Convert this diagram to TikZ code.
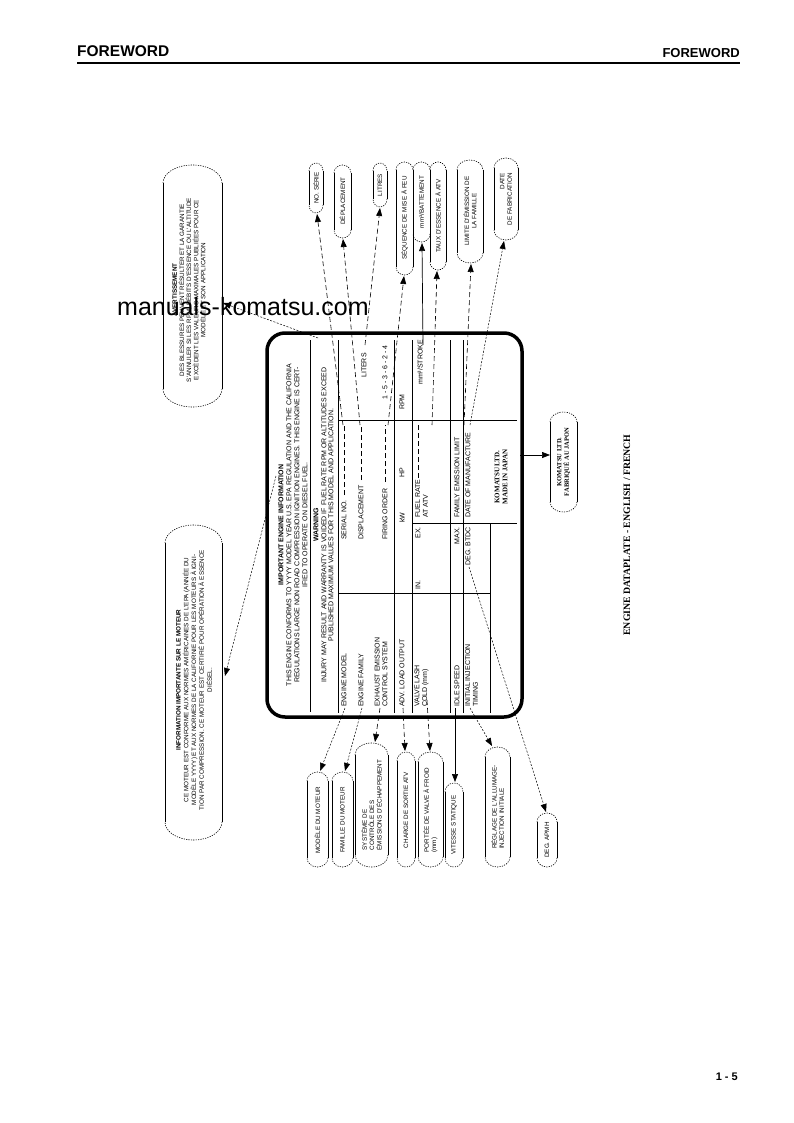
\documentclass[tikz,border=0pt]{standalone}
\usepackage{fontspec}
\setmainfont{Liberation Sans}
\newfontfamily\serifb{Liberation Serif}
\usetikzlibrary{arrows.meta}
\newcommand\bub[5]{%
  \pgfmathsetmacro\bubrx{(#2-#1)/2}%
  \draw[bubside] (#1,#3+#5) -- (#1,#4-#5) (#2,#3+#5) -- (#2,#4-#5);
  \draw[bubcap] (#1,#3+#5) arc[start angle=180,end angle=0,x radius=\bubrx pt,y radius=#5pt];
  \draw[bubcap] (#2,#4-#5) arc[start angle=0,end angle=-180,x radius=\bubrx pt,y radius=#5pt];
}
\begin{document}
\begin{tikzpicture}[x=1pt,y=-1pt,
  tt/.style={rotate=90,inner sep=0pt,font=\fontsize{7}{7.8}\selectfont,align=left},
  ttb/.style={tt,font=\fontsize{7}{7.8}\selectfont\bfseries},
  bt/.style={rotate=90,inner sep=0pt,font=\fontsize{6.3}{7.3}\selectfont,align=center},
  rule/.style={line width=0.6pt},
  tdash/.style={line width=0.6pt,dash pattern=on 5pt off 3pt},
  bubside/.style={line width=0.6pt},
  bubcap/.style={line width=0.6pt,dash pattern=on 1.2pt off 1.2pt},
  tip/.style={-{Triangle[length=8pt,width=6pt]}},
  lead/.style={tip,line width=0.6pt,dash pattern=on 5pt off 3pt},
  leadf/.style={tip,line width=0.5pt,dash pattern=on 2pt off 1.5pt},
  leads/.style={tip,line width=0.7pt},
]
\useasboundingbox (0,0) rectangle (793,1123);
\fill[white] (0,0) rectangle (793,1123);

% header / footer
\node[anchor=base west,inner sep=0pt,font=\fontsize{15.5}{16}\selectfont\bfseries] (hl) at (77,57) {FOREWORD};
\node[anchor=base east,inner sep=0pt,font=\fontsize{13}{14}\selectfont\bfseries] (hr) at (740,58) {FOREWORD};
\draw[line width=2.5pt] (77,63) -- (740,63);
\node[anchor=base east,inner sep=0pt,font=\fontsize{11}{12}\selectfont\bfseries] (pg) at (738,1080) {1 - 5};

% caption
\node[rotate=90,inner sep=0pt,font=\fontsize{9.8}{10}\serifb\bfseries] (cap) at (627,535) {ENGINE DATAPLATE - ENGLISH / FRENCH};

% dataplate frame
\draw[line width=3.5pt,rounded corners=18pt] (267,333) rectangle (522,717);
% table rules
\draw[rule] (310,340) -- (310,712);
\draw[rule] (338,340) -- (338,713);
\draw[rule] (394,340) -- (394,713);
\draw[rule] (412,340) -- (412,713);
\draw[rule] (450,340) -- (450,713);
\draw[rule] (463,340) -- (463,713);
\draw[rule] (490,523) -- (490,713);
\draw[rule] (338,593) -- (490,593);
\draw[rule] (338,420) -- (517,420);
\draw[rule] (412,523) -- (517,523);

% header text
\node[ttb] (h1) at (281,525) {IMPORTANT ENGINE INFORMATION};
\node[tt] (h2) at (289,525) {THIS ENGINE CONFORMS TO YYYY MODEL YEAR U.S. EPA REGULATION AND THE CALIFORNIA};
\node[tt] (h3) at (297,525) {REGULATIONS LARGE NON ROAD COMPRESSION IGNITION ENGINES. THIS ENGINE IS CERT-};
\node[tt] (h4) at (305,525) {IFIED TO OPERATE ON DIESEL FUEL.};
\node[ttb] (w1) at (316,525) {WARNING};
\node[tt] (w2) at (324,525) {INJURY MAY RESULT AND WARRANTY IS VOIDED IF FUEL RATE RPM OR ALTITUDES EXCEED};
\node[tt] (w3) at (331,525) {PUBLISHED MAXIMUM VALUES FOR THIS MODEL AND APPLICATION.};

% rows
\node[tt,anchor=west] (r1a) at (344,707) {ENGINE MODEL};
\node[tt,anchor=west] (r1b) at (344,540) {SERIAL NO.};
\draw[tdash] (344,495) -- (344,425);
\node[tt,anchor=west] (r2a) at (361,707) {ENGINE FAMILY};
\node[tt,anchor=west] (r2b) at (361,540) {DISPLACEMENT};
\draw[tdash] (361,480) -- (361,425);
\node[tt,anchor=west] (r2c) at (364,378) {LITERS};
\node[tt,anchor=west] (r3a) at (381,707) {EXHAUST EMISSION\\CONTROL SYSTEM};
\node[tt,anchor=west] (r3b) at (385,540) {FIRING ORDER};
\draw[tdash] (385,482) -- (385,425);
\node[tt,anchor=west] (r3c) at (385,400) {1 - 5 - 3 - 6 - 2 - 4};
\node[tt,anchor=west] (r4a) at (402,707) {ADV. LOAD OUTPUT};
\node[tt,anchor=west] (r4b) at (402,523) {kW};
\node[tt,anchor=west] (r4c) at (402,478) {HP};
\node[tt,anchor=west] (r4d) at (402,410) {RPM};
\node[tt,anchor=west] (r5a) at (421.5,707) {VALVE LASH\\COLD (mm)};
\node[tt,anchor=west] (r5b) at (418,590) {IN.};
\node[tt,anchor=east] (r5c) at (418,527) {EX.};
\node[tt,anchor=west] (r5d) at (421.5,518) {FUEL RATE\\AT ATV};
\draw[tdash] (418,478) -- (418,425);
\node[tt,anchor=west] (r5e) at (420,385) {mm³/STROKE};
\node[tt,anchor=west] (r6a) at (457,707) {IDLE SPEED};
\node[tt,anchor=east] (r6b) at (457,527) {MAX.};
\node[tt,anchor=west] (r6c) at (457,518) {FAMILY EMISSION LIMIT};
\node[tt,anchor=west] (r7a) at (471.5,707) {INITIAL INJECTION\\TIMING};
\node[tt,anchor=east] (r7b) at (468,527) {DEG. BTDC};
\node[tt,anchor=west] (r7c) at (468,518) {DATE OF MANUFACTURE};
\node[rotate=90,inner sep=0pt,align=center,font=\fontsize{7}{8}\serifb\bfseries] (r8) at (501,477) {KOMATSU LTD.\\MADE IN JAPAN};

% top bubbles
\bub{309}{323}{163}{213}{8}  \node[bt] (t1) at (316,188) {NO. SÉRIE};
\bub{334}{351}{165}{238}{8}  \node[bt] (t2) at (342.5,201) {DÉPLACEMENT};
\bub{373}{387}{163}{207}{8}  \node[bt] (t3) at (380,185) {LITRES};
\bub{396}{413}{162}{275}{8}  \node[bt] (t4) at (404.5,218) {SÉQUENCE DE MISE À FEU};
\bub{413}{430}{162}{242}{8}  \node[bt] (t5) at (421.5,202) {mm³/BATTEMENT};
\bub{430}{446}{162}{270}{8}  \node[bt] (t6) at (438,216) {TAUX D'ESSENCE À ATV};
\bub{457}{483}{160}{263}{10} \node[bt] (t7) at (470,211) {LIMITE D'ÉMISSION DE\\LA FAMILLE};
\bub{494}{518}{158}{240}{10} \node[bt,align=right] (t8) at (506,199) {DATE\\DE FABRICATION};

% bottom bubbles
\bub{307}{328}{772}{867}{9}  \node[bt] (b1) at (317.5,820) {MODÈLE DU MOTEUR};
\bub{332}{353}{772}{867}{9}  \node[bt] (b2) at (342.5,820) {FAMILLE DU MOTEUR};
\bub{355}{388}{743}{867}{12} \node[bt,align=left] (b3) at (371.5,805) {SYSTÈME DE\\CONTRÔLE DES\\ÉMISSIONS D'ÉCHAPPEMENT};
\bub{397}{415}{752}{867}{9}  \node[bt] (b4) at (406,810) {CHARGE DE SORTIE ATV};
\bub{418}{443}{752}{867}{10} \node[bt,align=left] (b5) at (430.5,810) {PORTÉE DE VALVE À FROID\\(mm)};
\bub{445}{463}{783}{867}{9}  \node[bt] (b6) at (454,825) {VITESSE STATIQUE};
\bub{485}{510}{747}{867}{10} \node[bt,align=left] (b7) at (497.5,807) {RÉGLAGE DE L'ALLUMAGE-\\INJECTION INITIALE};
\bub{537}{557}{813}{867}{9}  \node[bt] (b8) at (547,840) {DEG. APMH};

% left bubbles
\bub{163}{222}{165}{407}{18}
\node[bt,font=\fontsize{6.3}{7.1}\selectfont] (av) at (189,290) {\textbf{AVERTISSEMENT}\\DES BLESSURES PEUVENT RÉSULTER ET LA GARANTIE\\S'ANNULER SI LES RPM, DÉBITS D'ESSENCE OU L'ALTITUDE\\EXCÈDENT LES VALEURS MAXIMALES PUBLIÉES POUR CE\\MODÈLE ET SON APPLICATION};
\bub{165}{222}{525}{840}{18}
\node[bt,font=\fontsize{6.3}{7.8}\selectfont] (inf) at (194,680) {\textbf{INFORMATION IMPORTANTE SUR LE MOTEUR}\\CE MOTEUR EST CONFORME AUX NORMES AMÉRICAINES DE L'EPA (ANNÉE DU\\MODÈLE YYYY) ET AUX NORMES DE LA CALIFORNIE POUR LES MOTEURS À IGNI-\\TION PAR COMPRESSION. CE MOTEUR EST CERTIFIÉ POUR OPÉRATION À ESSENCE\\DIÉSEL.};

% komatsu bubble
\bub{550}{577}{412}{512}{10}
\node[rotate=90,inner sep=0pt,align=center,font=\fontsize{6.5}{7.5}\serifb\bfseries] (ko) at (563.5,462) {KOMATSU LTD.\\FABRIQUÉ AU JAPON};

% connector endpoints
\coordinate (s1) at (343,425); \coordinate (e1) at (317,214);
\coordinate (s2) at (360,425); \coordinate (e2) at (343,239);
\coordinate (s3) at (365,345); \coordinate (e3) at (380,208);
\coordinate (s4) at (388,425); \coordinate (e4) at (404,276);
\coordinate (s5) at (423,345); \coordinate (e5) at (422,243);
\coordinate (s6) at (432,425); \coordinate (e6) at (437,271);
\coordinate (s7) at (464,425); \coordinate (e7) at (471,264);
\coordinate (s8) at (470,425); \coordinate (e8) at (504,241);
\coordinate (sa) at (345,708); \coordinate (ea) at (320,771);
\coordinate (sb) at (362,708); \coordinate (eb) at (345,771);
\coordinate (sc) at (380,708); \coordinate (ec) at (375,742);
\coordinate (sd) at (403,708); \coordinate (ed) at (405,751);
\coordinate (se) at (427,700); \coordinate (ee) at (430,751);
\coordinate (sf) at (455,708); \coordinate (ef) at (455,782);
\coordinate (sg) at (470,708); \coordinate (eg) at (492,746);
\coordinate (sh) at (469,567); \coordinate (eh) at (546,812);
\coordinate (sav) at (318,338); \coordinate (eav) at (223,303);
\coordinate (sin) at (276,476); \coordinate (ein) at (225,676);
\coordinate (sko) at (520,455); \coordinate (eko) at (550,455);

\draw[lead] (s1) -- (e1);
\draw[lead] (s2) -- (e2);
\draw[lead] (s3) -- (e3);
\draw[lead] (s4) -- (e4);
\draw[leads] (s5) -- (e5);
\draw[lead] (s6) -- (e6);
\draw[lead] (s7) -- (e7);
\draw[leadf] (s8) -- (e8);
\draw[leadf] (sa) -- (ea);
\draw[leadf] (sb) -- (eb);
\draw[lead] (sc) -- (ec);
\draw[lead] (sd) -- (ed);
\draw[lead] (se) -- (ee);
\draw[leads] (sf) -- (ef);
\draw[leadf] (sg) -- (eg);
\draw[leadf] (sh) -- (eh);
\draw[leadf] (sav) -- (eav);
\draw[leadf] (sin) -- (ein);
\draw[leads] (sko) -- (eko);

% watermark
\node[anchor=base west,inner sep=0pt,font=\fontsize{25}{26}\selectfont] (wm) at (117,315) {manuals-komatsu.com};
\end{tikzpicture}
\end{document}
